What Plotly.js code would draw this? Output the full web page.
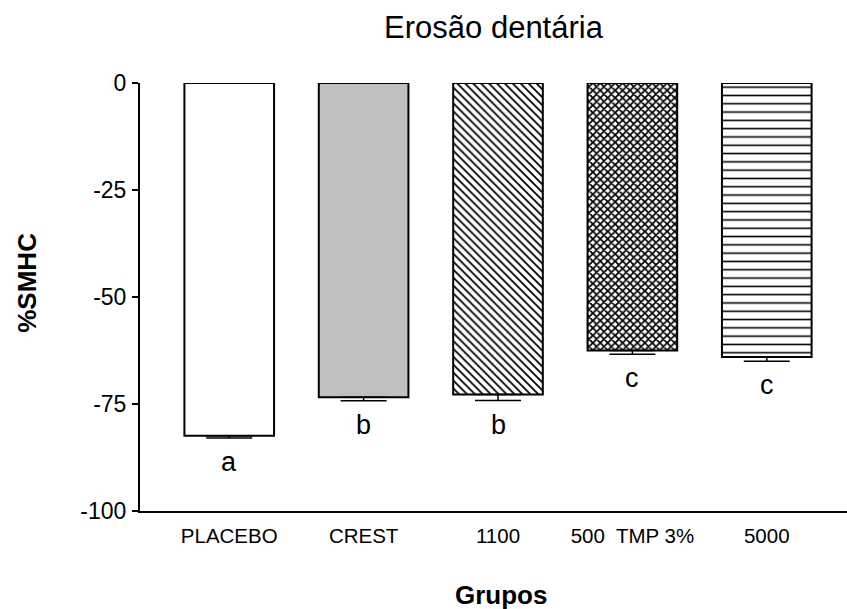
<!DOCTYPE html>
<html>
<head>
<meta charset="utf-8">
<script src="https://cdn.plot.ly/plotly-3.0.1.min.js"></script>
<style>html,body{margin:0;padding:0;background:#fff;}#chart{width:847px;height:609px;}</style>
</head>
<body>
<div id="chart"></div>
<script>
// Data
const categories = ["PLACEBO", "CREST", "1100", "500  TMP 3%", "5000"];
const smhcMeans = [-82.4, -73.4, -72.8, -62.5, -64.0];
const smhcErrors = [0.55, 0.85, 1.4, 0.85, 1.0];
const groupLetters = ["a", "b", "b", "c", "c"];
const yTickValues = [0, -25, -50, -75, -100];
const yTickLabels = ["0", "-25", "-50", "-75", "-100"];

// Styles (fill / hatch per bar)
const barFill = ["#ffffff", "#c0c0c0", "#ffffff", "#ffffff", "#ffffff"];
const hatchColor = ["#000000", "#c0c0c0", "#000000", "#000000", "#000000"];
const barPattern = ["", "-", "\\", "x", "-"];
const hatchSize = [8, 8, 5.6, 5.25, 8.3];
const hatchSolidity = [0.2, 0.2, 0.32, 0.55, 0.19];
const FONT = "Arial, 'Liberation Sans', sans-serif";

const trace = {
  type: "bar",
  x: categories,
  y: smhcMeans,
  width: 0.667,
  marker: {
    color: "#ffffff",
    line: { color: "#000000", width: 2 },
    pattern: {
      shape: barPattern,
      fgcolor: hatchColor,
      bgcolor: barFill,
      size: hatchSize,
      solidity: hatchSolidity,
      fillmode: "replace"
    }
  },
  error_y: {
    type: "data",
    symmetric: false,
    array: smhcErrors.map(() => 0),
    arrayminus: smhcErrors,
    color: "#000000",
    thickness: 1.5,
    width: 23
  },
  hoverinfo: "x+y"
};

const letterAnnotations = categories.map((c, i) => ({
  x: i,
  y: smhcMeans[i] - smhcErrors[i],
  xref: "x",
  yref: "y",
  text: groupLetters[i],
  showarrow: false,
  yanchor: "middle",
  yshift: -24,
  font: { family: FONT, size: 27, color: "#000" }
}));

const layout = {
  width: 847,
  height: 609,
  margin: { l: 140, r: 0, t: 83, b: 98 },
  paper_bgcolor: "#ffffff",
  plot_bgcolor: "#ffffff",
  showlegend: false,
  title: {
    text: "Erosão dentária",
    font: { family: FONT, size: 31, color: "#000" },
    x: 0.5,
    xref: "paper",
    xanchor: "center",
    y: 1,
    yref: "container",
    yanchor: "top",
    pad: { t: 16 }
  },
  xaxis: {
    type: "category",
    range: [-0.664, 4.597],
    showline: true,
    linecolor: "#000",
    linewidth: 2,
    ticks: "",
    showgrid: false,
    zeroline: false,
    tickfont: { family: FONT, size: 20.5, color: "#000" },
    ticklabelstandoff: 5,
    fixedrange: true
  },
  yaxis: {
    range: [-100, 0],
    tickvals: yTickValues,
    ticktext: yTickLabels,
    showline: true,
    linecolor: "#000",
    linewidth: 2,
    ticks: "outside",
    ticklen: 6,
    tickwidth: 2,
    tickcolor: "#000",
    showgrid: false,
    zeroline: false,
    tickfont: { family: FONT, size: 23, color: "#000" },
    ticklabelstandoff: 1,
    fixedrange: true
  },
  annotations: letterAnnotations.concat([
    {
      text: "<b>%SMHC</b>",
      xref: "paper", yref: "paper",
      x: -0.16, y: 0.533,
      xanchor: "center", yanchor: "middle",
      textangle: -90,
      showarrow: false,
      font: { family: FONT, size: 26, color: "#000" }
    },
    {
      text: "<b>Grupos</b>",
      xref: "paper", yref: "paper",
      x: 0.511, y: -0.197,
      xanchor: "center", yanchor: "middle",
      showarrow: false,
      font: { family: FONT, size: 26, color: "#000" }
    }
  ])
};

Plotly.newPlot("chart", [trace], layout, { displayModeBar: false, staticPlot: true });
</script>
</body>
</html>
